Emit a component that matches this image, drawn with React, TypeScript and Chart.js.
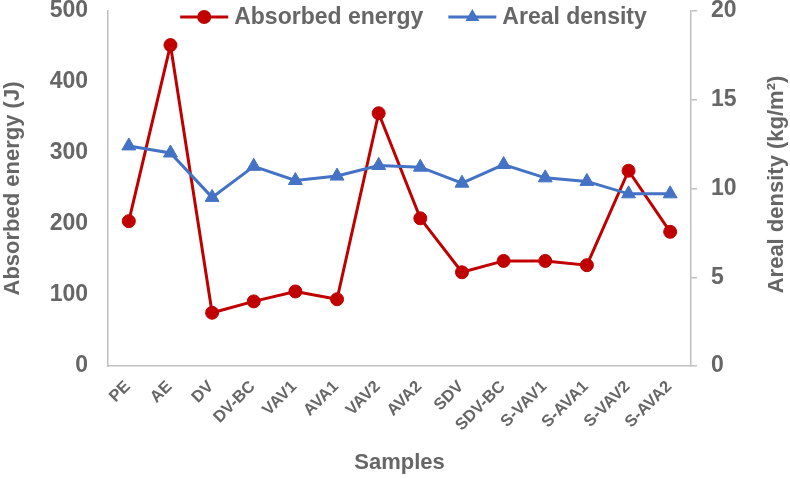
import React, { useEffect, useRef } from 'react';
import { Chart, registerables } from 'chart.js';

Chart.register(...registerables);

const samples = ['PE', 'AE', 'DV', 'DV-BC', 'VAV1', 'AVA1', 'VAV2', 'AVA2', 'SDV', 'SDV-BC', 'S-VAV1', 'S-AVA1', 'S-VAV2', 'S-AVA2'];
const absorbedEnergy = [204, 452, 75, 91, 105, 94, 356, 208, 132, 148, 148, 142, 275, 189];
const arealDensity = [12.4, 12.0, 9.5, 11.25, 10.45, 10.7, 11.3, 11.2, 10.3, 11.35, 10.6, 10.4, 9.7, 9.7];
const energyRange = [0, 500, 100];
const densityRange = [0, 20, 5];
const seriesNames = ['Absorbed energy', 'Areal density'];
const axisTitles = ['Samples', 'Absorbed energy (J)', 'Areal density (kg/m\u00B2)'];

const RED = '#C00000';
const BLUE = '#4472C4';
const TEXT = '#666666';
const AXIS = '#BFBFBF';
const FAMILY = '"Liberation Sans", Arial, sans-serif';

function drawMarker(ctx: CanvasRenderingContext2D, style: string, x: number, y: number, r: number, color: string) {
  ctx.fillStyle = color;
  ctx.beginPath();
  if (style === 'circle') {
    ctx.arc(x, y, r, 0, Math.PI * 2);
  } else {
    const rr = r + 1;
    ctx.moveTo(x, y - rr);
    ctx.lineTo(x + rr * Math.sin(Math.PI * 2 / 3), y - rr * Math.cos(Math.PI * 2 / 3));
    ctx.lineTo(x + rr * Math.sin(Math.PI * 4 / 3), y - rr * Math.cos(Math.PI * 4 / 3));
    ctx.closePath();
  }
  ctx.fill();
}

const extrasPlugin = {
  id: 'extras',
  afterDraw(chart: any) {
    const ctx: CanvasRenderingContext2D = chart.ctx;
    const ca = chart.chartArea;
    ctx.save();
    // legend
    ctx.font = `bold 23px ${FAMILY}`;
    ctx.textBaseline = 'middle';
    ctx.textAlign = 'left';
    const symW = 48;
    const gap = 6;
    const between = 25;
    const colors = [RED, BLUE];
    const styles = ['circle', 'triangle'];
    const widths = seriesNames.map((n) => ctx.measureText(n).width);
    const total = widths.reduce((a, b) => a + b, 0) + 2 * (symW + gap) + between;
    const cx = (ca.left + ca.right) / 2 + 14;
    let x = cx - total / 2;
    const y = ca.top + 6;
    seriesNames.forEach((name, i) => {
      ctx.strokeStyle = colors[i];
      ctx.lineWidth = 3;
      ctx.beginPath();
      ctx.moveTo(x, y);
      ctx.lineTo(x + symW, y);
      ctx.stroke();
      drawMarker(ctx, styles[i], x + symW / 2, y, 7, colors[i]);
      ctx.fillStyle = TEXT;
      ctx.fillText(name, x + symW + gap, y + 1);
      x += symW + gap + widths[i] + between;
    });
    // right axis title (reads bottom to top)
    ctx.font = `bold 22px ${FAMILY}`;
    ctx.textAlign = 'center';
    ctx.fillStyle = TEXT;
    ctx.translate(chart.width - 13, (ca.top + ca.bottom) / 2 - 4);
    ctx.rotate(-Math.PI / 2);
    ctx.fillText(axisTitles[2], 0, 0);
    ctx.restore();
  },
};

const fixVertical = (w: number) => (s: any) => {
  s.width = w;
  s.paddingTop = 11;
  s.paddingBottom = 0;
};

export default function App() {
  const ref = useRef<HTMLCanvasElement | null>(null);
  useEffect(() => {
    document.body.style.margin = '0';
    const canvas = ref.current;
    if (!canvas) return;
    const chart = new Chart(canvas, {
      type: 'line',
      data: {
        labels: samples,
        datasets: [
          {
            label: seriesNames[0],
            data: absorbedEnergy,
            yAxisID: 'y',
            borderColor: RED,
            backgroundColor: RED,
            borderWidth: 3,
            pointStyle: 'circle',
            pointRadius: 6.5,
            pointBorderWidth: 1,
            pointBackgroundColor: RED,
            pointBorderColor: RED,
            tension: 0,
            order: 1,
          },
          {
            label: seriesNames[1],
            data: arealDensity,
            yAxisID: 'y1',
            borderColor: BLUE,
            backgroundColor: BLUE,
            borderWidth: 3,
            pointStyle: 'triangle',
            pointRadius: 8,
            pointBorderWidth: 1,
            pointBackgroundColor: BLUE,
            pointBorderColor: BLUE,
            tension: 0,
            order: 0,
          },
        ],
      },
      options: {
        animation: false,
        responsive: true,
        maintainAspectRatio: false,
        layout: { padding: 0 },
        plugins: {
          legend: { display: false },
          tooltip: { enabled: false },
        },
        scales: {
          x: {
            type: 'category',
            offset: true,
            grid: { display: true, drawOnChartArea: false, drawTicks: false },
            border: { display: true, color: AXIS, width: 1.5 },
            ticks: {
              autoSkip: false,
              minRotation: 45,
              maxRotation: 45,
              padding: 11,
              labelOffset: -1,
              color: TEXT,
              font: { family: FAMILY, size: 16.5, weight: 'bold' },
            },
            title: {
              display: true,
              text: axisTitles[0],
              color: TEXT,
              font: { family: FAMILY, size: 22, weight: 'bold' },
              padding: { top: 0, bottom: 3 },
            },
            afterFit: (s: any) => {
              s.height = 113;
              s.paddingLeft = 0;
              s.paddingRight = 0;
            },
          },
          y: {
            type: 'linear',
            position: 'left',
            min: energyRange[0],
            max: energyRange[1],
            grid: { display: true, drawOnChartArea: false, drawTicks: false },
            border: { display: true, color: AXIS, width: 1.5 },
            ticks: {
              stepSize: energyRange[2],
              padding: 20,
              color: TEXT,
              font: { family: FAMILY, size: 23, weight: 'bold' },
            },
            title: {
              display: true,
              text: axisTitles[1],
              color: TEXT,
              font: { family: FAMILY, size: 22, weight: 'bold' },
              padding: { top: 0, bottom: 0 },
            },
            afterFit: fixVertical(108),
          },
          y1: {
            type: 'linear',
            position: 'right',
            min: densityRange[0],
            max: densityRange[1],
            grid: { display: true, drawOnChartArea: false, drawTicks: true, tickLength: 6, color: AXIS, lineWidth: 1.5 },
            border: { display: true, color: AXIS, width: 1.5 },
            ticks: {
              stepSize: densityRange[2],
              padding: 14,
              color: TEXT,
              font: { family: FAMILY, size: 23, weight: 'bold' },
            },
            afterFit: fixVertical(99),
          },
        },
      },
      plugins: [extrasPlugin],
    });
    return () => chart.destroy();
  }, []);
  return (
    <div style={{ position: 'fixed', left: 0, top: 0, width: 790, height: 479 }}>
      <canvas ref={ref} />
    </div>
  );
}
